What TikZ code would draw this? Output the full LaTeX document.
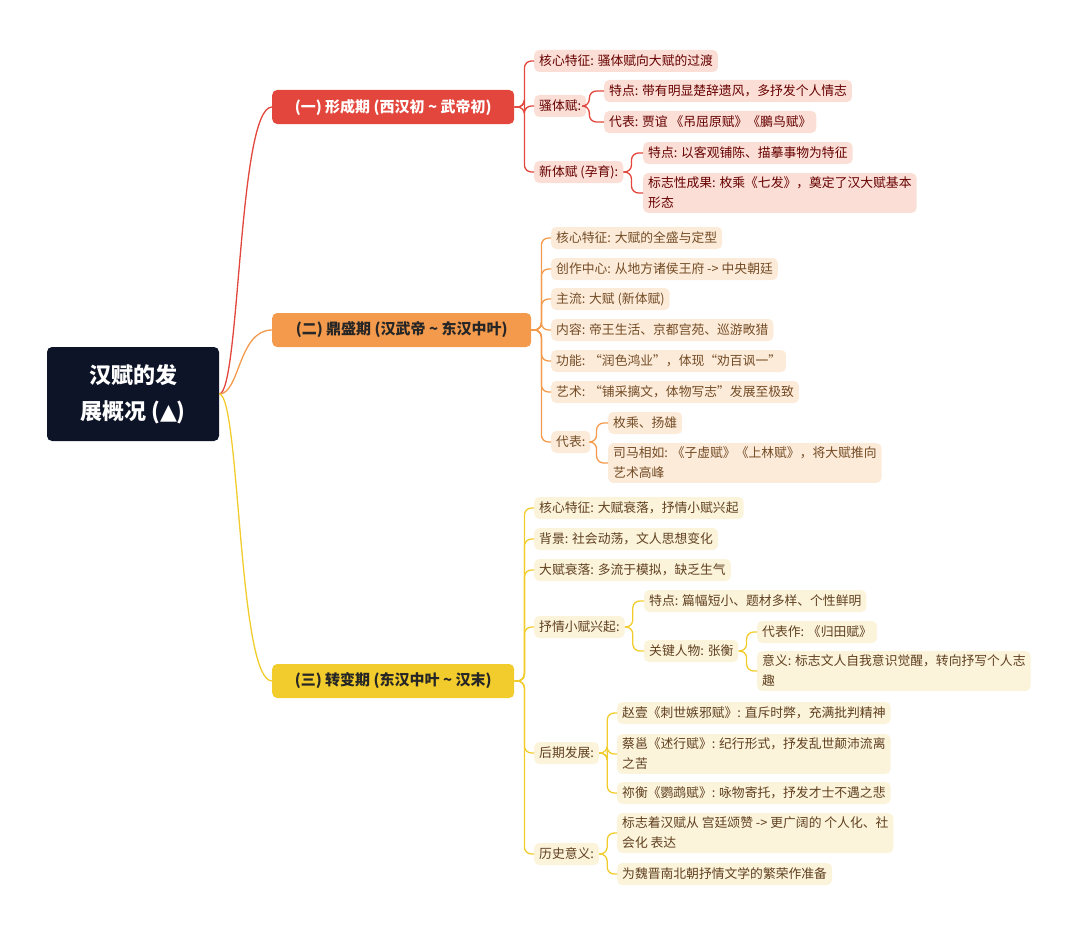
\documentclass[tikz,border=0pt]{standalone}
\usepackage{fontspec}
\setmainfont{Noto Sans CJK SC}
\newfontfamily\symfont{DejaVu Sans}
\definecolor{cR}{HTML}{E2463C}
\definecolor{cO}{HTML}{F39A4C}
\definecolor{cY}{HTML}{F2CC2C}
\definecolor{fR}{HTML}{FBDFD6}
\definecolor{fO}{HTML}{FDEBD9}
\definecolor{fY}{HTML}{FBF3DA}
\definecolor{rootc}{HTML}{0E1428}
\begin{document}
\begin{tikzpicture}[x=1pt,y=-1pt,
 leaf/.style={anchor=west,rounded corners=5pt,inner xsep=5pt,inner ysep=4pt,font=\fontsize{12.8}{20}\selectfont,align=left,minimum height=22pt},
 lr/.style={leaf,fill=fR,text=red!40!black},
 lo/.style={leaf,fill=fO,text=brown!60!black},
 ly/.style={leaf,fill=fY,text=brown!50!black},
 top/.style={anchor=west,rounded corners=5pt,minimum height=34pt,inner xsep=10pt,font=\fontsize{15}{16}\selectfont\bfseries},
 cr/.style={draw=cR,line width=1.3pt,rounded corners=7pt},
 co/.style={draw=cO,line width=1.3pt,rounded corners=7pt},
 cy/.style={draw=cY,line width=1.3pt,rounded corners=7pt}]
\useasboundingbox (0,0) rectangle (1080,934);
\node[fill=rootc,text=white,rounded corners=5pt,minimum width=172pt,minimum height=94pt,align=center,font=\fontsize{22}{36}\selectfont\bfseries] (root) at (133,394) {汉赋的发\\展概况 ({\symfont ▲})};
\node[top,fill=cR,text=white,minimum width=242pt] (A) at (272,107) {(一) 形成期 (西汉初 \textasciitilde{} 武帝初)};
\node[top,fill=cO,text=black!85,minimum width=259pt] (B) at (272,330) {(二) 鼎盛期 (汉武帝 \textasciitilde{} 东汉中叶)};
\node[top,fill=cY,text=black!85,minimum width=242pt] (C) at (272,681) {(三) 转变期 (东汉中叶 \textasciitilde{} 汉末)};
\draw[cr] (root.east) .. controls (240,394) and (238,107) .. (A.west);
\draw[co] (root.east) .. controls (240,394) and (238,330) .. (B.west);
\draw[cy] (root.east) .. controls (240,394) and (238,681) .. (C.west);
% A
\node[lr] (a1) at (534,61) {核心特征: 骚体赋向大赋的过渡};
\node[lr] (a2) at (534,106) {骚体赋:};
\node[lr] (a3) at (534,172) {新体赋 (孕育):};
\node[lr] (a21) at (604,91) {特点: 带有明显楚辞遗风，多抒发个人情志};
\node[lr] (a22) at (604,122) {代表: 贾谊 《吊屈原赋》《鵩鸟赋》};
\node[lr] (a31) at (643,153) {特点: 以客观铺陈、描摹事物为特征};
\node[lr] (a32) at (643,193) {标志性成果: 枚乘《七发》，奠定了汉大赋基本\\形态};
\foreach \c in {a1,a2,a3} \draw[cr] (A.east) -- ++(10,0) |- (\c.west);
\foreach \c in {a21,a22} \draw[cr] (a2.east) -- ++(3,0) |- (\c.west);
\foreach \c in {a31,a32} \draw[cr] (a3.east) -- ++(8,0) |- (\c.west);
% B
\node[lo] (b1) at (551,238) {核心特征: 大赋的全盛与定型};
\node[lo] (b2) at (551,269) {创作中心: 从地方诸侯王府 -> 中央朝廷};
\node[lo] (b3) at (551,299) {主流: 大赋 (新体赋)};
\node[lo] (b4) at (551,330) {内容: 帝王生活、京都宫苑、巡游畋猎};
\node[lo] (b5) at (551,361) {功能: “润色鸿业”，体现“劝百讽一”};
\node[lo] (b6) at (551,392) {艺术: “铺采摛文，体物写志”发展至极致};
\node[lo] (b7) at (551,442) {代表:};
\node[lo] (b71) at (608,423) {枚乘、扬雄};
\node[lo] (b72) at (608,463) {司马相如: 《子虚赋》《上林赋》，将大赋推向\\艺术高峰};
\foreach \c in {b1,b2,b3,b4,b5,b6,b7} \draw[co] (B.east) -- ++(10,0) |- (\c.west);
\foreach \c in {b71,b72} \draw[co] (b7.east) -- ++(6,0) |- (\c.west);
% C
\node[ly] (c1) at (534,508) {核心特征: 大赋衰落，抒情小赋兴起};
\node[ly] (c2) at (534,539) {背景: 社会动荡，文人思想变化};
\node[ly] (c3) at (534,570) {大赋衰落: 多流于模拟，缺乏生气};
\node[ly] (c4) at (534,627) {抒情小赋兴起:};
\node[ly] (c5) at (534,753) {后期发展:};
\node[ly] (c6) at (534,854) {历史意义:};
\node[ly] (c41) at (644,601) {特点: 篇幅短小、题材多样、个性鲜明};
\node[ly] (c42) at (644,651) {关键人物: 张衡};
\node[ly] (c421) at (757,632) {代表作: 《归田赋》};
\node[ly] (c422) at (757,671) {意义: 标志文人自我意识觉醒，转向抒写个人志\\趣};
\node[ly] (c51) at (617,713) {赵壹《刺世嫉邪赋》: 直斥时弊，充满批判精神};
\node[ly] (c52) at (617,754) {蔡邕《述行赋》: 纪行形式，抒发乱世颠沛流离\\之苦};
\node[ly] (c53) at (617,793) {祢衡《鹦鹉赋》: 咏物寄托，抒发才士不遇之悲};
\node[ly] (c61) at (617,833) {标志着汉赋从 宫廷颂赞 -> 更广阔的 个人化、社\\会化 表达};
\node[ly] (c62) at (617,874) {为魏晋南北朝抒情文学的繁荣作准备};
\foreach \c in {c1,c2,c3,c4,c5,c6} \draw[cy] (C.east) -- ++(10,0) |- (\c.west);
\foreach \c in {c41,c42} \draw[cy] (c4.east) -- ++(8,0) |- (\c.west);
\foreach \c in {c421,c422} \draw[cy] (c42.east) -- ++(8,0) |- (\c.west);
\foreach \c in {c51,c52,c53} \draw[cy] (c5.east) -- ++(8,0) |- (\c.west);
\foreach \c in {c61,c62} \draw[cy] (c6.east) -- ++(8,0) |- (\c.west);
\end{tikzpicture}
\end{document}
